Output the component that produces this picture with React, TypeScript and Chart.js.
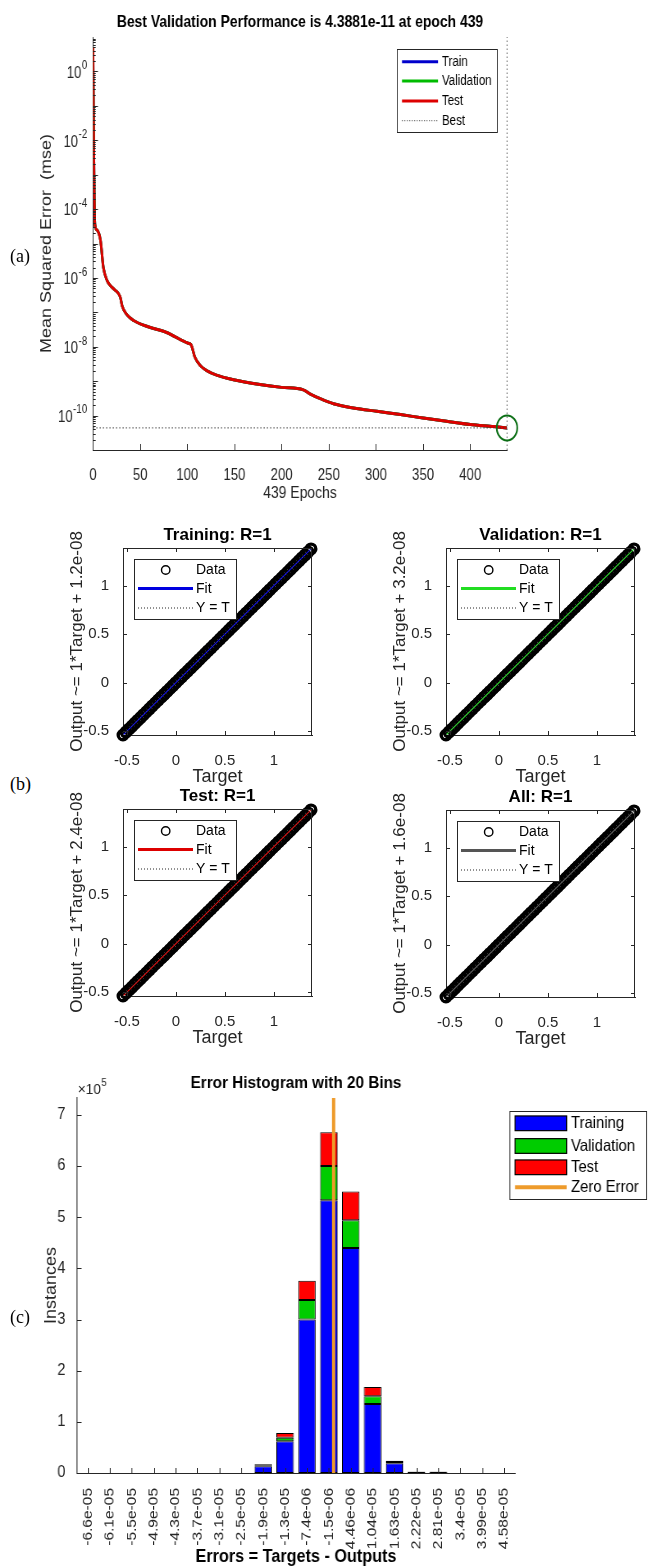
import React, { useEffect, useRef } from 'react';
import { Chart, registerables } from 'chart.js';

Chart.register(...registerables);

const FONT = "'Liberation Sans', Arial, Helvetica, sans-serif";
const SERIF = "'Liberation Serif', 'Times New Roman', Times, serif";
const INK = '#262626';

/* ---------------- (a) performance ---------------- */
const perfEpochs = [0, 1, 2, 4, 8, 11, 15, 20, 27, 29, 31, 36, 43, 60, 78, 101, 104, 108, 114, 121, 131, 149, 177, 200, 223, 230, 241, 255, 276, 301, 326, 350, 375, 400, 425, 439];
// train / validation / test curves coincide in the picture (only the red one is visible)
const perfMse = [5.1, 2e-3, 3.7e-5, 2.5e-5, 1.2e-5, 2e-6, 8.3e-7, 5.4e-7, 3.5e-7, 2.7e-7, 1.5e-7, 8.5e-8, 5.8e-8, 3.7e-8, 2.6e-8, 1.26e-8, 1.15e-8, 5e-9, 2.8e-9, 2e-9, 1.5e-9, 1.1e-9, 8e-10, 6.6e-10, 5.6e-10, 4.3e-10, 3.1e-10, 2.2e-10, 1.67e-10, 1.33e-10, 1.07e-10, 8.5e-11, 6.8e-11, 5.5e-11, 4.8e-11, 4.3881e-11];
const perfBestEpoch = 439;
const perfBestMse = 4.3881e-11;
const perfXTicks = [0, 50, 100, 150, 200, 250, 300, 350, 400];
const perfYTicks = [1, 1e-2, 1e-4, 1e-6, 1e-8, 1e-10];
const perfYTickExponents = ['0', '-2', '-4', '-6', '-8', '-10'];
const perfYMin = 1e-11;
const perfYMax = 1e1;

/* ---------------- (b) regression ---------------- */
const regTitles = ['Training: R=1', 'Validation: R=1', 'Test: R=1', 'All: R=1'];
const regYTitles = [
  'Output ~= 1*Target + 1.2e-08',
  'Output ~= 1*Target + 3.2e-08',
  'Output ~= 1*Target + 2.4e-08',
  'Output ~= 1*Target + 1.6e-08',
];
const regSlope = 1;
const regIntercepts = [1.2e-8, 3.2e-8, 2.4e-8, 1.6e-8];
const regFitColors = ['#0000e0', '#22dd22', '#dd0000', '#555555'];
const regTargets = [-0.54, -0.51, -0.48, -0.45, -0.42, -0.39, -0.36, -0.33, -0.3, -0.27, -0.24, -0.21, -0.18, -0.15, -0.12, -0.09, -0.06, -0.03, 0, 0.03, 0.06, 0.09, 0.12, 0.15, 0.18, 0.21, 0.24, 0.27, 0.3, 0.33, 0.36, 0.39, 0.42, 0.45, 0.48, 0.51, 0.54, 0.57, 0.6, 0.63, 0.66, 0.69, 0.72, 0.75, 0.78, 0.81, 0.84, 0.87, 0.9, 0.93, 0.96, 0.99, 1.02, 1.05, 1.08, 1.11, 1.14, 1.17, 1.2, 1.23, 1.26, 1.29, 1.32, 1.35, 1.38];
// R = 1: every output sits on its target
const regOutputs = regTargets.slice();
const regMin = -0.54;
const regMax = 1.39;
const regTicks = [-0.5, 0, 0.5, 1];

/* ---------------- (c) error histogram ---------------- */
const histBinLabels = ['-6.6e-05', '-6.1e-05', '-5.5e-05', '-4.9e-05', '-4.3e-05', '-3.7e-05', '-3.1e-05', '-2.5e-05', '-1.9e-05', '-1.3e-05', '-7.4e-06', '-1.5e-06', '4.46e-06', '1.04e-05', '1.63e-05', '2.22e-05', '2.81e-05', '3.4e-05', '3.99e-05', '4.58e-05'];
const histTraining = [0, 0, 0, 0, 0, 0, 0, 0, 13000, 62000, 300000, 533000, 440000, 135000, 19000, 2000, 2000, 0, 0, 0];
const histValidation = [0, 0, 0, 0, 0, 0, 0, 0, 2000, 7000, 38000, 67000, 54000, 15000, 2500, 500, 500, 0, 0, 0];
const histTest = [0, 0, 0, 0, 0, 0, 0, 0, 2000, 9000, 38000, 66000, 56000, 18000, 2500, 500, 500, 0, 0, 0];
const histYTicks = [0, 100000, 200000, 300000, 400000, 500000, 600000, 700000];
const histYMax = 733000;
const histExponent = 5;
const histZeroError = 0;

/* ---------------- helpers ---------------- */
const PERF_SX = 0.82;
const HIST_SX = 0.9;

function decoPlugin(o: any) {
  return {
    id: 'deco',
    afterDatasetsDraw(chart: any) {
      const { ctx, chartArea: a, scales } = chart;
      const xs = scales.x;
      const ys = scales.y;
      ctx.save();
      ctx.strokeStyle = INK;
      ctx.lineWidth = 1;
      ctx.beginPath();
      xs.ticks.forEach((_: any, i: number) => {
        const px = Math.round(xs.getPixelForTick(i)) + 0.5;
        ctx.moveTo(px, a.bottom);
        ctx.lineTo(px, a.bottom - o.len);
        if (o.box) {
          ctx.moveTo(px, a.top);
          ctx.lineTo(px, a.top + o.len);
        }
      });
      if (o.yLog) {
        for (let k = o.yLog[0]; k <= o.yLog[1]; k++) {
          for (let m = 1; m <= 9; m++) {
            const v = m * Math.pow(10, k);
            if (v < ys.min * 0.999 || v > ys.max * 1.001) continue;
            const py = Math.round(ys.getPixelForValue(v)) + 0.5;
            ctx.moveTo(a.left, py);
            ctx.lineTo(a.left + (m === 1 ? o.len : o.len * 0.55), py);
          }
        }
      } else {
        ys.ticks.forEach((_: any, i: number) => {
          const py = Math.round(ys.getPixelForTick(i)) + 0.5;
          ctx.moveTo(a.left, py);
          ctx.lineTo(a.left + o.len, py);
          if (o.box) {
            ctx.moveTo(a.right, py);
            ctx.lineTo(a.right - o.len, py);
          }
        });
      }
      if (o.box) {
        ctx.moveTo(a.left, Math.round(a.top) + 0.5);
        ctx.lineTo(a.right, Math.round(a.top) + 0.5);
        ctx.moveTo(Math.round(a.right) - 0.5, a.top);
        ctx.lineTo(Math.round(a.right) - 0.5, a.bottom);
      }
      ctx.stroke();
      ctx.restore();
    },
  };
}

// power-of-ten tick labels ("10" with a raised exponent), placed through the y scale
function powerLabelsPlugin() {
  return {
    id: 'powlabels',
    afterDraw(chart: any) {
      const { ctx, chartArea: a, scales } = chart;
      const ys = scales.y;
      ctx.save();
      ctx.fillStyle = INK;
      ctx.textBaseline = 'middle';
      ctx.textAlign = 'left';
      perfYTicks.forEach((v, i) => {
        const py = ys.getPixelForValue(v);
        const exp = perfYTickExponents[i];
        ctx.font = `16px ${FONT}`;
        const wb = ctx.measureText('10').width;
        ctx.font = `12px ${FONT}`;
        const we = ctx.measureText(exp).width;
        const xr = a.left - 7;
        const x0 = xr - we - wb - 0.5;
        ctx.font = `16px ${FONT}`;
        ctx.fillText('10', x0, py + 2);
        ctx.font = `12px ${FONT}`;
        ctx.fillText(exp, x0 + wb + 0.5, py - 5.5);
      });
      ctx.restore();
    },
  };
}

function legendPlugin(o: any) {
  return {
    id: 'mlegend',
    afterDraw(chart: any) {
      const { ctx, chartArea: a } = chart;
      const bx = (o.rel ? a.left : 0) + o.x;
      const by = (o.rel ? a.top : 0) + o.y;
      ctx.save();
      ctx.fillStyle = '#ffffff';
      ctx.fillRect(bx, by, o.w, o.h);
      ctx.strokeStyle = INK;
      ctx.lineWidth = 1;
      ctx.strokeRect(Math.round(bx) + 0.5, Math.round(by) + 0.5, Math.round(o.w), Math.round(o.h));
      ctx.font = o.font;
      ctx.textBaseline = 'middle';
      ctx.textAlign = 'left';
      o.items.forEach((it: any, i: number) => {
        const y = by + o.rowY[i];
        const x1 = bx + o.x1;
        const x2 = bx + o.x2;
        if (it.kind === 'line' || it.kind === 'dotted') {
          ctx.beginPath();
          ctx.strokeStyle = it.color;
          ctx.lineWidth = it.width || 2;
          ctx.setLineDash(it.kind === 'dotted' ? [1, 2] : []);
          ctx.moveTo(x1, y);
          ctx.lineTo(x2, y);
          ctx.stroke();
          ctx.setLineDash([]);
        } else if (it.kind === 'rect') {
          const h = o.rectH || 14;
          ctx.fillStyle = it.color;
          ctx.fillRect(x1, y - h / 2, x2 - x1, h);
          ctx.strokeStyle = '#000';
          ctx.lineWidth = 1.2;
          ctx.strokeRect(x1, y - h / 2, x2 - x1, h);
        } else if (it.kind === 'circle') {
          ctx.beginPath();
          ctx.strokeStyle = it.color;
          ctx.lineWidth = 1.4;
          ctx.arc(bx + o.cx, y, 4.2, 0, Math.PI * 2);
          ctx.stroke();
        }
        ctx.fillStyle = '#000';
        ctx.fillText(it.label, bx + o.tx, y + 0.5);
      });
      ctx.restore();
    },
  };
}

function exponentPlugin() {
  return {
    id: 'expo',
    afterDraw(chart: any) {
      const { ctx, chartArea: a } = chart;
      ctx.save();
      ctx.fillStyle = INK;
      ctx.textAlign = 'left';
      ctx.textBaseline = 'alphabetic';
      ctx.font = `15px ${FONT}`;
      const base = '×10';
      const x = a.left + 1;
      ctx.fillText(base, x, a.top - 4);
      const w = ctx.measureText(base).width;
      ctx.font = `11px ${FONT}`;
      ctx.fillText(String(histExponent), x + w + 0.5, a.top - 12);
      ctx.restore();
    },
  };
}

const baseOptions = {
  animation: false,
  responsive: false,
  maintainAspectRatio: false,
  devicePixelRatio: 1,
  events: [],
};

/* ---------------- (a) config ---------------- */
function perfConfig() {
  const sx = PERF_SX;
  const W = Math.round(668 / sx);
  const left = 93 / sx;
  const right = 507 / sx;
  const pts = perfEpochs.map((e, i) => ({ x: e, y: perfMse[i] }));
  const lineDs = (label: string, color: string, order: number) => ({
    label,
    data: pts,
    borderColor: color,
    backgroundColor: color,
    borderWidth: 3,
    pointRadius: 0,
    cubicInterpolationMode: 'monotone',
    order,
  });
  return {
    type: 'line',
    data: {
      datasets: [
        lineDs('Train', '#0000cc', 5),
        lineDs('Validation', '#00bb00', 4),
        lineDs('Test', '#dd0000', 3),
        {
          label: 'Best',
          data: [{ x: 0, y: perfBestMse }, { x: perfBestEpoch, y: perfBestMse }],
          borderColor: '#333',
          borderWidth: 1,
          borderDash: [1.5, 2.5],
          pointRadius: 0,
          order: 2,
        },
        {
          label: 'Best',
          data: [{ x: perfBestEpoch, y: perfYMin }, { x: perfBestEpoch, y: perfYMax }],
          borderColor: '#555',
          borderWidth: 1,
          borderDash: [1.5, 2.5],
          pointRadius: 0,
          order: 2,
          clip: false,
        },
        {
          label: 'Best point',
          data: [{ x: perfBestEpoch, y: perfBestMse }],
          showLine: false,
          pointRadius: 12.5,
          pointBorderWidth: 2,
          pointBorderColor: '#0a6e14',
          pointBackgroundColor: 'rgba(0,0,0,0)',
          borderColor: '#0a6e14',
          order: 0,
          clip: false,
        },
      ],
    },
    options: {
      ...baseOptions,
      layout: { padding: { left: 0, right: W - right, top: 0, bottom: 0 } },
      plugins: {
        legend: { display: false },
        tooltip: { enabled: false },
        title: {
          display: true,
          fullSize: false,
          text: 'Best Validation Performance is 4.3881e-11 at epoch 439',
          color: '#000',
          font: { family: FONT, size: 17, weight: 'bold' },
          padding: { top: 11.8, bottom: 4.8 },
        },
      },
      scales: {
        x: {
          type: 'linear',
          min: 0,
          max: perfBestEpoch,
          afterBuildTicks: (s: any) => {
            s.ticks = perfXTicks.map((v) => ({ value: v }));
          },
          afterFit: (s: any) => {
            s.height = 60;
          },
          grid: { display: false },
          border: { display: true, color: INK, width: 1 },
          ticks: {
            autoSkip: false,
            maxRotation: 0,
            padding: 8.4,
            color: INK,
            font: { family: FONT, size: 16 },
            callback: (v: any) => String(v),
          },
          title: {
            display: true,
            text: '439 Epochs',
            color: INK,
            font: { family: FONT, size: 17 },
            padding: { top: 0, bottom: 6.8 },
          },
        },
        y: {
          type: 'logarithmic',
          min: perfYMin,
          max: perfYMax,
          afterBuildTicks: (s: any) => {
            s.ticks = perfYTicks.map((v) => ({ value: v }));
          },
          afterFit: (s: any) => {
            s.width = left;
          },
          grid: { display: false },
          border: { display: true, color: INK, width: 1 },
          ticks: { display: false },
          title: {
            display: true,
            text: 'Mean Squared Error  (mse)',
            color: INK,
            font: { family: FONT, size: 18 },
            padding: { top: 46.5, bottom: 0 },
          },
        },
      },
    },
    plugins: [
      decoPlugin({ len: 6, yLog: [-11, 0] }),
      powerLabelsPlugin(),
      legendPlugin({
        rel: false,
        x: 397 / sx,
        y: 49,
        w: 100 / sx,
        h: 83,
        rowY: [12.7, 32, 52, 71.7],
        x1: 5 / sx,
        x2: 41 / sx,
        tx: 45 / sx,
        font: `14px ${FONT}`,
        items: [
          { label: 'Train', kind: 'line', color: '#0000cc', width: 3 },
          { label: 'Validation', kind: 'line', color: '#00bb00', width: 3 },
          { label: 'Test', kind: 'line', color: '#dd0000', width: 3 },
          { label: 'Best', kind: 'dotted', color: '#222', width: 1 },
        ],
      }),
    ],
  };
}

/* ---------------- (b) config ---------------- */
const REG_W = 280;
const REG_H = 270;
const REG_PLOT_LEFT = 73;
const REG_PLOT_TOP = 26;
const REG_PLOT_W = 189;
const REG_PLOT_H = 187;

function regConfig(i: number) {
  const pts = regTargets.map((t, k) => ({ x: t, y: regOutputs[k] }));
  const fit = [regMin, regMax].map((t) => ({ x: t, y: regSlope * t + regIntercepts[i] }));
  const yt = [{ x: regMin, y: regMin }, { x: regMax, y: regMax }];
  return {
    type: 'scatter',
    data: {
      datasets: [
        {
          label: 'Data',
          data: pts,
          pointStyle: 'circle',
          pointRadius: 4.8,
          pointBorderWidth: 3.4,
          pointBorderColor: '#000',
          pointBackgroundColor: 'rgba(0,0,0,0)',
          borderColor: '#000',
          order: 3,
          clip: false,
        },
        {
          label: 'Fit',
          data: fit,
          showLine: true,
          borderColor: regFitColors[i],
          borderWidth: 1.2,
          pointRadius: 0,
          order: 2,
        },
        {
          label: 'Y = T',
          data: yt,
          showLine: true,
          borderColor: '#666',
          borderWidth: 1,
          borderDash: [1, 2],
          pointRadius: 0,
          order: 1,
        },
      ],
    },
    options: {
      ...baseOptions,
      layout: { padding: { left: 0, right: REG_W - REG_PLOT_LEFT - REG_PLOT_W, top: 0, bottom: 0 } },
      plugins: {
        legend: { display: false },
        tooltip: { enabled: false },
        title: {
          display: true,
          fullSize: false,
          text: regTitles[i],
          color: '#000',
          font: { family: FONT, size: 17, weight: 'bold' },
          padding: { top: 2.8, bottom: 2.8 },
        },
      },
      scales: {
        x: {
          type: 'linear',
          min: regMin,
          max: regMax,
          afterBuildTicks: (s: any) => {
            s.ticks = regTicks.map((v) => ({ value: v }));
          },
          afterFit: (s: any) => {
            s.height = REG_H - REG_PLOT_TOP - REG_PLOT_H;
          },
          grid: { display: false },
          border: { display: true, color: INK, width: 1 },
          ticks: {
            autoSkip: false,
            maxRotation: 0,
            padding: 9,
            color: INK,
            font: { family: FONT, size: 15 },
            callback: (v: any) => String(v),
          },
          title: {
            display: true,
            text: 'Target',
            color: INK,
            font: { family: FONT, size: 18 },
            padding: { top: 0, bottom: 4.2 },
          },
        },
        y: {
          type: 'linear',
          min: regMin,
          max: regMax,
          afterBuildTicks: (s: any) => {
            s.ticks = regTicks.map((v) => ({ value: v }));
          },
          afterFit: (s: any) => {
            s.width = REG_PLOT_LEFT;
          },
          grid: { display: false },
          border: { display: true, color: INK, width: 1 },
          ticks: {
            autoSkip: false,
            padding: 6,
            color: INK,
            font: { family: FONT, size: 15 },
            callback: (v: any) => String(v),
          },
          title: {
            display: true,
            text: regYTitles[i],
            color: INK,
            font: { family: FONT, size: 17 },
            padding: { top: 16.8, bottom: 0 },
          },
        },
      },
    },
    plugins: [
      decoPlugin({ len: 4, box: true }),
      legendPlugin({
        rel: true,
        x: 11,
        y: 11,
        w: 102,
        h: 60,
        rowY: [11, 29.5, 49],
        x1: 4,
        x2: 59,
        cx: 31.7,
        tx: 62,
        font: `14px ${FONT}`,
        items: [
          { label: 'Data', kind: 'circle', color: '#000' },
          { label: 'Fit', kind: 'line', color: regFitColors[i], width: 3 },
          { label: 'Y = T', kind: 'dotted', color: '#222', width: 1 },
        ],
      }),
    ],
  };
}

/* ---------------- (c) config ---------------- */
function histConfig() {
  const sx = HIST_SX;
  const W = Math.round(668 / sx);
  const left = 77 / sx;
  const right = 515 / sx;
  const centers = histBinLabels.map(Number);
  const binW = (centers[centers.length - 1] - centers[0]) / (centers.length - 1);
  const barDs = (label: string, data: number[], color: string) => ({
    label,
    data,
    backgroundColor: color,
    borderColor: '#000',
    borderWidth: 1,
    borderSkipped: false,
    grouped: false,
    barPercentage: 0.8,
    categoryPercentage: 1,
    order: 1,
  });
  return {
    type: 'bar',
    data: {
      labels: histBinLabels,
      datasets: [
        barDs('Training', histTraining, '#0000ff'),
        barDs('Validation', histValidation, '#00cc00'),
        barDs('Test', histTest, '#ff0000'),
        {
          type: 'line',
          label: 'Zero Error',
          data: [{ x: histZeroError, y: 0 }, { x: histZeroError, y: histYMax }],
          xAxisID: 'xv',
          yAxisID: 'y',
          stack: 'zero',
          borderColor: '#EE9B2B',
          borderWidth: 3.6,
          pointRadius: 0,
          order: 0,
        },
      ],
    },
    options: {
      ...baseOptions,
      layout: { padding: { left: 0, right: W - right, top: 0, bottom: 0 } },
      plugins: {
        legend: { display: false },
        tooltip: { enabled: false },
        title: {
          display: true,
          fullSize: false,
          text: 'Error Histogram with 20 Bins',
          color: '#000',
          font: { family: FONT, size: 17, weight: 'bold' },
          padding: { top: 32.8, bottom: 4.8 },
        },
      },
      scales: {
        x: {
          type: 'category',
          stacked: true,
          offset: true,
          afterFit: (s: any) => {
            s.height = 95;
          },
          grid: { display: false },
          border: { display: true, color: INK, width: 1 },
          ticks: {
            autoSkip: false,
            minRotation: 90,
            maxRotation: 90,
            padding: 7,
            color: INK,
            font: { family: FONT, size: 15.5 },
          },
          title: {
            display: true,
            text: 'Errors = Targets - Outputs',
            color: '#000',
            font: { family: FONT, size: 18, weight: 'bold' },
            padding: { top: 0, bottom: 0.5 },
          },
        },
        xv: {
          type: 'linear',
          display: false,
          offset: false,
          grid: { offset: false },
          min: centers[0] - binW / 2,
          max: centers[centers.length - 1] + binW / 2,
        },
        y: {
          type: 'linear',
          stacked: true,
          min: 0,
          max: histYMax,
          afterBuildTicks: (s: any) => {
            s.ticks = histYTicks.map((v) => ({ value: v }));
          },
          afterFit: (s: any) => {
            s.width = left;
          },
          grid: { display: false },
          border: { display: true, color: INK, width: 1 },
          ticks: {
            autoSkip: false,
            padding: 5,
            color: INK,
            font: { family: FONT, size: 16 },
            callback: (v: any) => String(Math.round(v / Math.pow(10, histExponent))),
          },
          title: {
            display: true,
            text: 'Instances',
            color: INK,
            font: { family: FONT, size: 18 },
            padding: { top: 45.9, bottom: 0 },
          },
        },
      },
    },
    plugins: [
      decoPlugin({ len: 5 }),
      exponentPlugin(),
      legendPlugin({
        rel: false,
        x: 509 / sx,
        y: 71,
        w: 137 / sx,
        h: 88,
        rowY: [12.3, 35, 56.3, 76.3],
        x1: 6 / sx,
        x2: 57.7 / sx,
        tx: 62 / sx,
        rectH: 14.7,
        font: `16.5px ${FONT}`,
        items: [
          { label: 'Training', kind: 'rect', color: '#0000ff' },
          { label: 'Validation', kind: 'rect', color: '#00cc00' },
          { label: 'Test', kind: 'rect', color: '#ff0000' },
          { label: 'Zero Error', kind: 'line', color: '#EE9B2B', width: 4 },
        ],
      }),
    ],
  };
}

/* ---------------- components ---------------- */
function ChartBox({ left, top, width, height, sx = 1, make }: any) {
  const ref = useRef<HTMLCanvasElement>(null);
  const iw = Math.round(width / sx);
  useEffect(() => {
    const chart = new Chart(ref.current as HTMLCanvasElement, make() as any);
    return () => chart.destroy();
  }, []);
  return (
    <div
      style={{
        position: 'absolute',
        left,
        top,
        width: iw,
        height,
        transform: sx !== 1 ? `scaleX(${sx})` : undefined,
        transformOrigin: '0 0',
      }}
    >
      <canvas ref={ref} width={iw} height={height} style={{ display: 'block', width: iw, height }} />
    </div>
  );
}

const REG_BOXES = [
  [123, 548],
  [446, 548],
  [123, 809],
  [446, 810],
];

const panelLabel = (top: number): React.CSSProperties => ({
  position: 'absolute',
  left: 10,
  top,
  fontFamily: SERIF,
  fontSize: 18,
  lineHeight: '22px',
  color: '#000',
});

export default function App() {
  return (
    <div
      style={{
        position: 'absolute',
        left: 0,
        top: 0,
        width: 668,
        height: 1568,
        background: '#fff',
        overflow: 'hidden',
      }}
    >
      <ChartBox left={0} top={0} width={668} height={510} sx={PERF_SX} make={perfConfig} />
      {REG_BOXES.map((b, i) => (
        <ChartBox
          key={i}
          left={b[0] - REG_PLOT_LEFT}
          top={b[1] - REG_PLOT_TOP}
          width={REG_W}
          height={REG_H}
          make={() => regConfig(i)}
        />
      ))}
      <ChartBox left={0} top={1040} width={668} height={528} sx={HIST_SX} make={histConfig} />
      <div style={panelLabel(245)}>(a)</div>
      <div style={panelLabel(773)}>(b)</div>
      <div style={panelLabel(1306)}>(c)</div>
    </div>
  );
}
